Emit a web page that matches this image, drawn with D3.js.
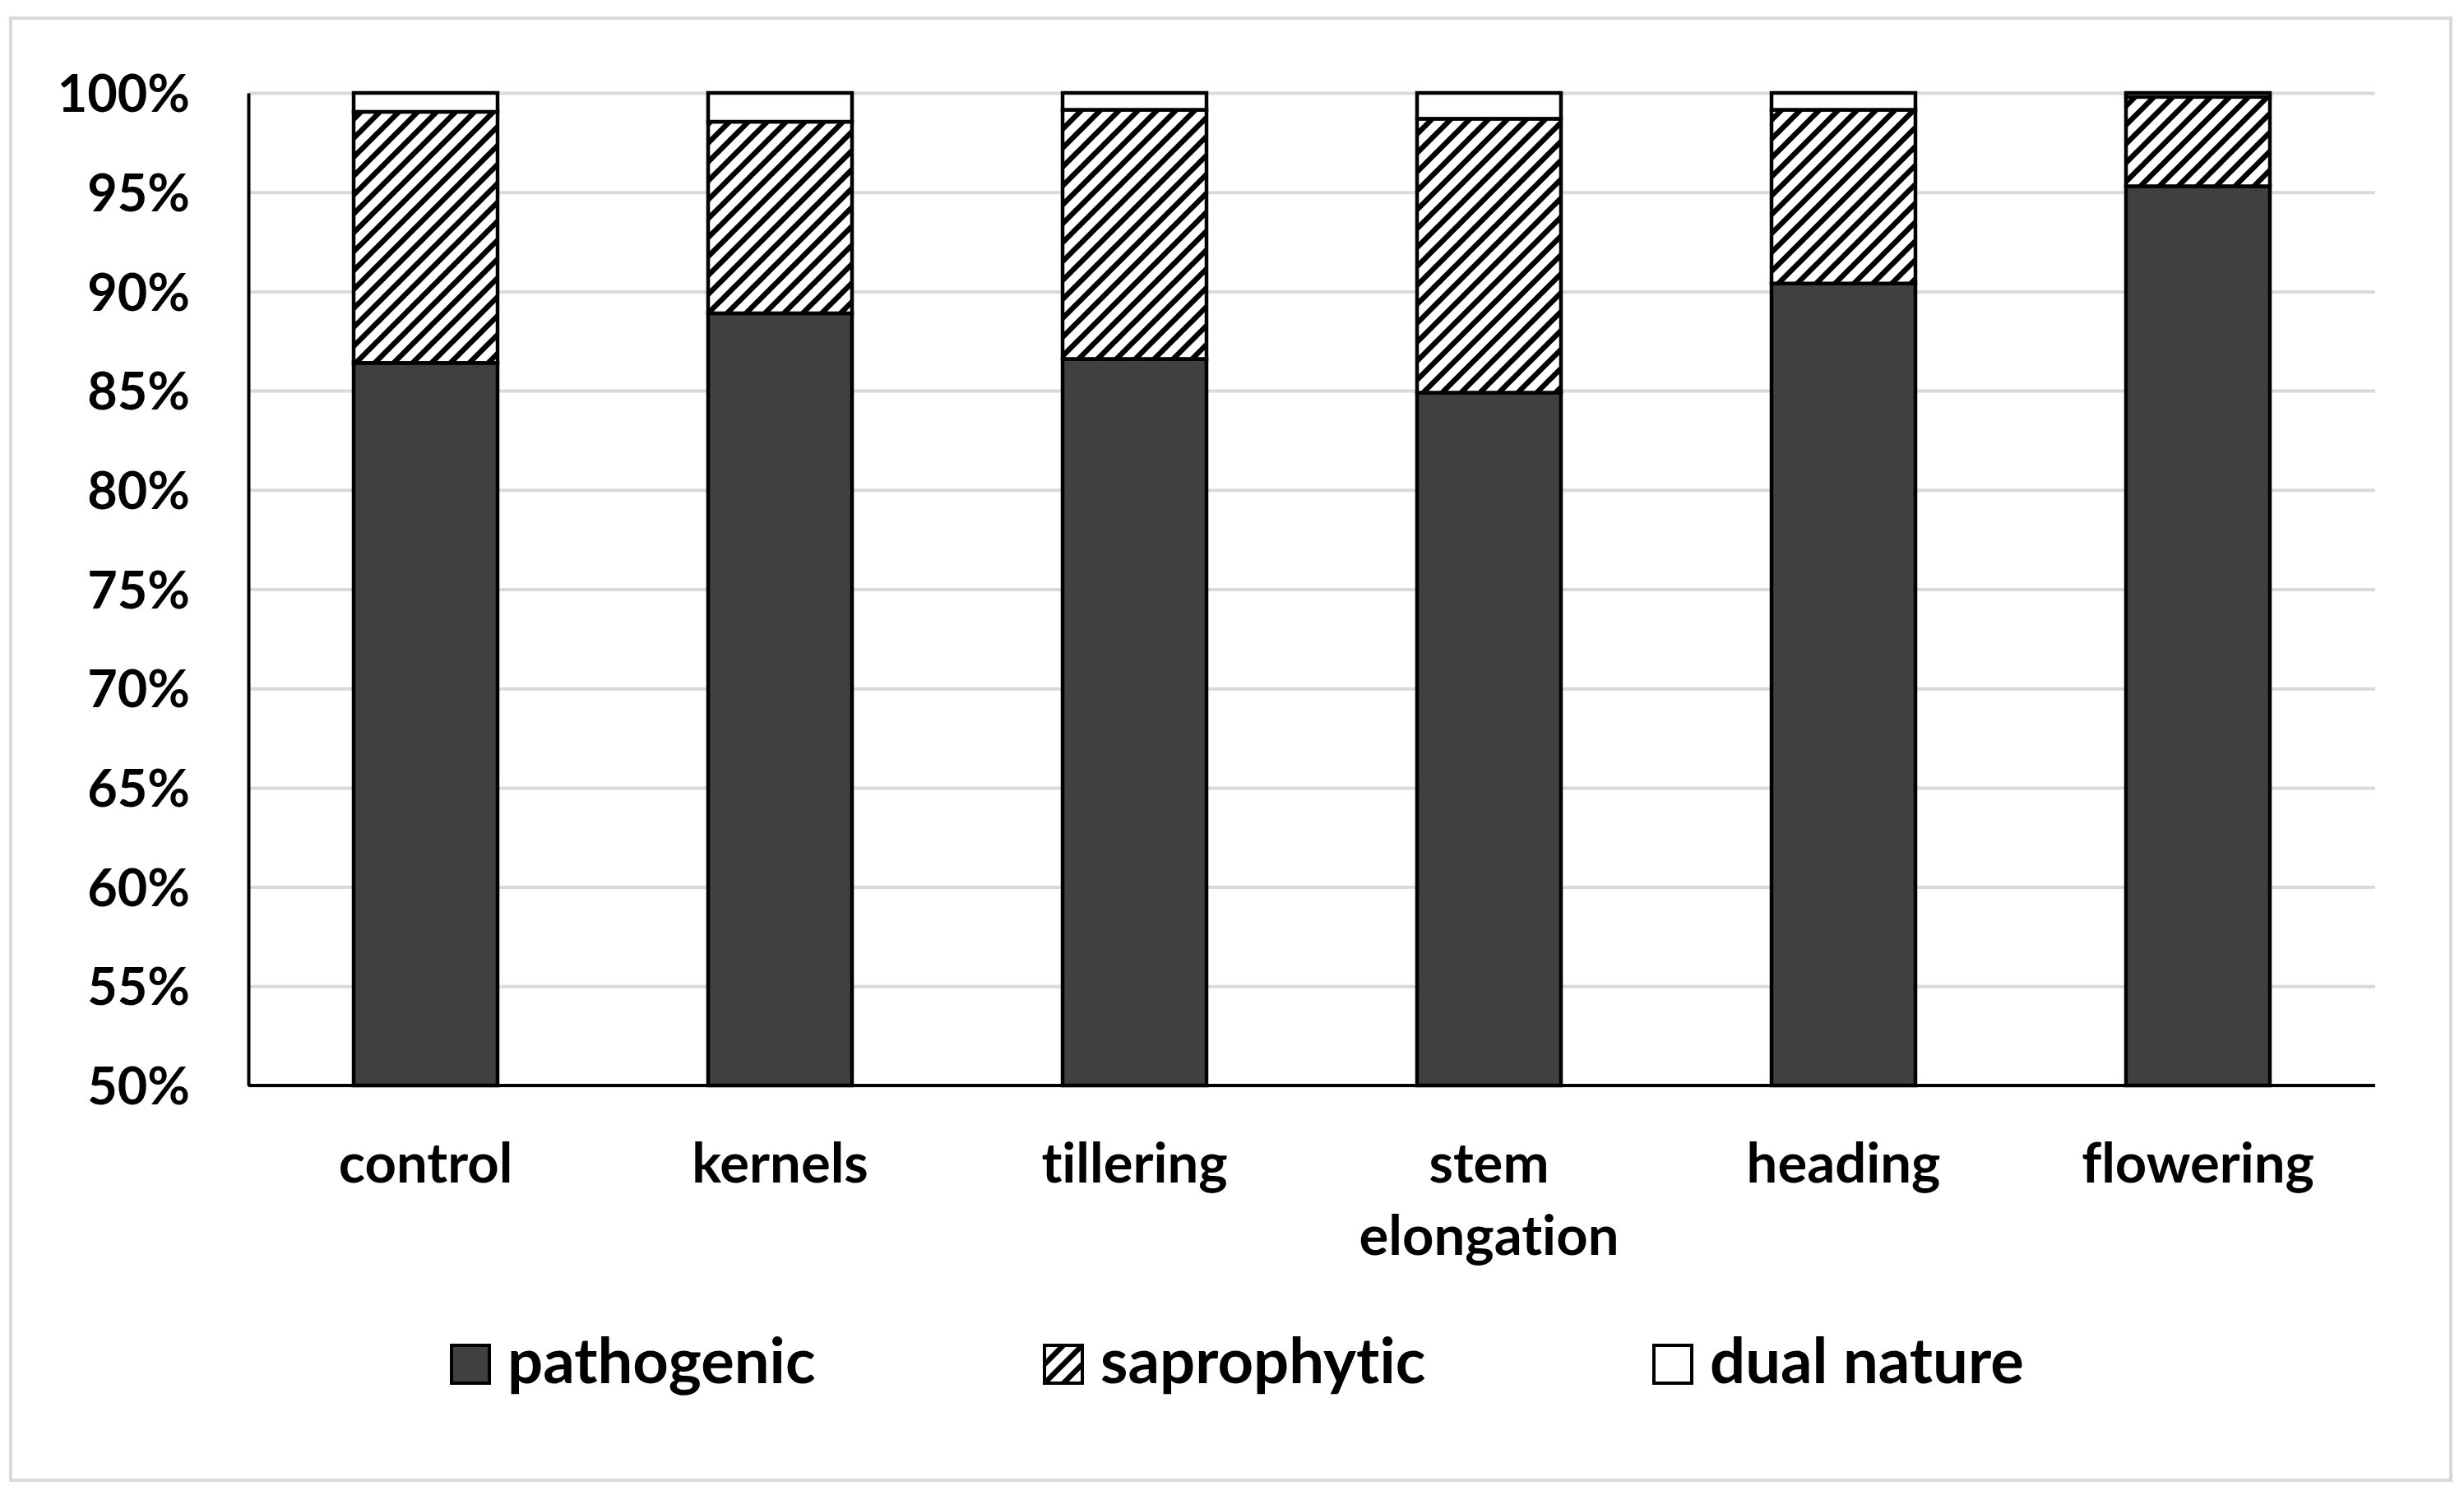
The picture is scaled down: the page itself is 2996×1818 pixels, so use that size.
<!DOCTYPE html>
<html>
<head>
<meta charset="utf-8">
<script src="https://cdn.jsdelivr.net/npm/d3@7"></script>
<style>
  body { margin: 0; background: #fff; }
  svg text { font-family: Lato, "Open Sans", sans-serif; font-weight: bold; fill: #000;
             font-variant-ligatures: none; font-feature-settings: "liga" 0, "clig" 0; }
</style>
</head>
<body>
<script>
// data (percent of isolates)
var categories  = ["control", "kernels", "tillering", "stem elongation", "heading", "flowering"];
var pathogenic  = [86.4, 88.9, 86.6, 84.9, 90.4, 95.3];
var saprophytic = [12.65, 9.65, 12.55, 13.8, 8.75, 4.5];
var dualNature  = [0.95, 1.45, 0.85, 1.3, 0.85, 0.2];
var seriesNames = ["pathogenic", "saprophytic", "dual nature"];
var yTicks      = [50, 55, 60, 65, 70, 75, 80, 85, 90, 95, 100];

var W = 2996, H = 1818;
var plot = {left: 302, right: 2888, top: 113, bottom: 1320};

var svg = d3.select("body").append("svg")
    .attr("width", W).attr("height", H);

// hatch for saprophytic
var defs = svg.append("defs");
var pat = defs.append("pattern")
    .attr("id", "hatch")
    .attr("patternUnits", "userSpaceOnUse")
    .attr("width", 23).attr("height", 23);
pat.append("rect").attr("width", 23).attr("height", 23).attr("fill", "#fff");
pat.append("path")
    .attr("d", "M0,23 L23,0 M-6,6 L6,-6 M17,29 L29,17")
    .attr("stroke", "#000").attr("stroke-width", 6.5);

// outer frame
svg.append("rect")
    .attr("x", 13).attr("y", 22)
    .attr("width", 2967).attr("height", 1778)
    .attr("fill", "#fff").attr("stroke", "#d9d9d9").attr("stroke-width", 4);

var x = d3.scaleBand()
    .domain(categories)
    .range([plot.left, plot.right])
    .paddingInner(0.594)
    .paddingOuter(0.297);

var y = d3.scaleLinear()
    .domain([50, 100])
    .range([plot.bottom, plot.top])
    .clamp(true);

// gridlines
svg.append("g")
    .attr("transform", "translate(" + plot.left + ",0)")
    .call(d3.axisLeft(y).tickValues(yTicks).tickSize(-(plot.right - plot.left)).tickFormat(""))
    .call(function(g) {
        g.select(".domain").remove();
        g.selectAll("line").attr("stroke", "#d9d9d9").attr("stroke-width", 4);
    });

// stacked bars
var rows = categories.map(function(c, i) {
    return {cat: c, pathogenic: pathogenic[i], saprophytic: saprophytic[i], "dual nature": dualNature[i]};
});
var stack = d3.stack().keys(seriesNames)(rows);
var fills = {"pathogenic": "#404040", "saprophytic": "url(#hatch)", "dual nature": "#fff"};

svg.append("g").selectAll("g")
    .data(stack)
    .join("g")
    .attr("fill", function(s) { return fills[s.key]; })
    .selectAll("rect")
    .data(function(s) { return s; })
    .join("rect")
    .attr("x", function(d) { return x(d.data.cat); })
    .attr("y", function(d) { return y(d[1]); })
    .attr("width", x.bandwidth())
    .attr("height", function(d) { return y(d[0]) - y(d[1]); })
    .attr("stroke", "#000")
    .attr("stroke-width", 4.5);

// y axis
svg.append("g")
    .attr("transform", "translate(" + plot.left + ",0)")
    .call(d3.axisLeft(y).tickValues(yTicks).tickSize(0).tickPadding(71)
        .tickFormat(function(d) { return d + "%"; }))
    .call(function(g) {
        g.select(".domain").attr("stroke", "#000").attr("stroke-width", 4);
        g.selectAll("text").attr("font-size", 63).attr("dy", "0.36em");
    });

// x axis
var xAxis = svg.append("g")
    .attr("transform", "translate(0," + plot.bottom + ")")
    .call(d3.axisBottom(x).tickSize(0))
    .call(function(g) {
        g.select(".domain").attr("stroke", "#000").attr("stroke-width", 4)
            .attr("d", "M" + plot.left + ",0H" + plot.right);
    });

xAxis.selectAll("text")
    .attr("font-size", 67)
    .attr("y", 118)
    .attr("dy", null)
    .each(function(d) {
        var t = d3.select(this);
        if (this.getComputedTextLength() > x.step()) {
            var words = d.split(" ");
            t.text(null);
            words.forEach(function(w, k) {
                t.append("tspan").attr("x", 0).attr("dy", k === 0 ? 0 : 88).text(w);
            });
        }
    });

// legend
var legendX = [549, 1270, 2011];
var legend = svg.append("g").selectAll("g")
    .data(seriesNames)
    .join("g")
    .attr("transform", function(d, i) { return "translate(" + legendX[i] + ",1636)"; });
legend.append("rect")
    .attr("width", 46).attr("height", 46)
    .attr("fill", function(d) { return fills[d]; })
    .attr("stroke", "#000").attr("stroke-width", 4);
legend.append("text")
    .attr("x", 68).attr("y", 46)
    .attr("font-size", 76)
    .text(function(d) { return d; });
</script>
</body>
</html>
